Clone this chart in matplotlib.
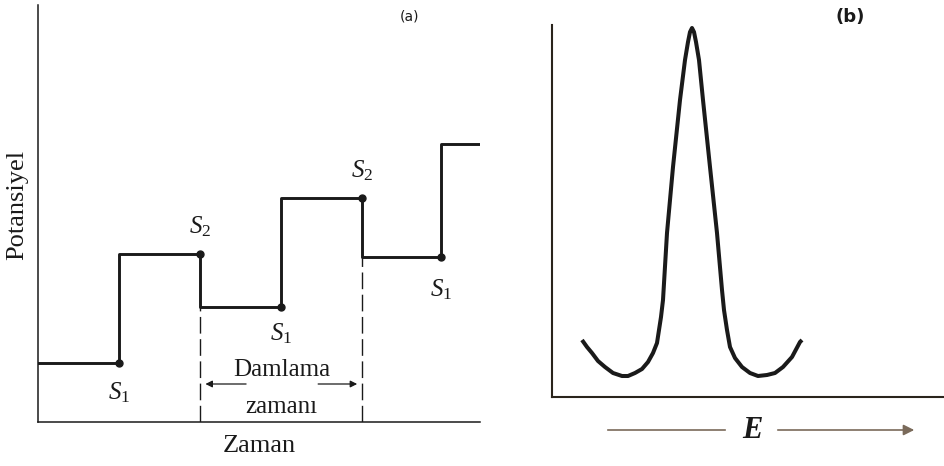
# Differential pulse polarography: (a) potential staircase, (b) peak-shaped response.
import numpy as np
import matplotlib.pyplot as plt

plt.rcParams['font.family'] = ['Liberation Serif', 'DejaVu Serif']
plt.rcParams['mathtext.fontset'] = 'custom'
plt.rcParams['mathtext.rm'] = 'Liberation Serif'
plt.rcParams['mathtext.it'] = 'Liberation Serif:italic'

# (a) step edges (drop times) and potential levels held between them
step_times = [0, 1, 2, 3, 4, 4.97, 5.45]
potential = [59, 168, 115, 224, 165, 278, 278]
sample_labels = [r'$S_1$', r'$S_2$', r'$S_1$', r'$S_2$', r'$S_1$']
label_offsets = [-30, 27, -27, 27, -33]

# (b) current vs potential trace
E_vals = [30, 35, 40, 46, 53, 61, 70, 76, 83, 90, 96, 101, 105, 107, 109, 111,
          115, 121, 128, 133, 136, 138, 140, 142, 144, 147, 151, 158, 165, 170,
          172, 175, 178, 183, 190, 198, 206, 215, 223, 231, 240, 248, 250]
current = [57, 50, 44, 36, 30, 24, 21, 21, 24, 28, 35, 44, 54, 67, 80, 97,
           164, 230, 297, 337, 355, 365, 369, 365, 355, 337, 297, 230, 164, 107,
           87, 67, 50, 39, 30, 24, 21, 22, 24, 30, 40, 55, 57]

W, H = 945, 466
fig = plt.figure(figsize=(W / 100, H / 100), dpi=100)
ink = '#1a1a1a'

# ---- panel (a)
ax1 = fig.add_axes([38 / W, 1 - 422 / H, (480 - 38) / W, (422 - 5) / H])
ax1.step(step_times, potential, where='post', color=ink, lw=2.1)
ts = step_times[1:6]
vs = potential[0:5]
ax1.plot(ts, vs, 'o', color=ink, ms=5)
for t, v, lab, off in zip(ts, vs, sample_labels, label_offsets):
    ax1.annotate(lab, (t, v), xytext=(0, off), textcoords='offset pixels',
                 ha='center', va='center', fontsize=18, color=ink)

# drop-time markers
for t, v in [(2, potential[2]), (4, potential[4])]:
    ax1.plot([t, t], [0, v], color=ink, lw=1.0, ls=(0, (12, 4)))
ax1.annotate('', xy=(2.03, 38), xytext=(2.6, 38),
             arrowprops=dict(arrowstyle='-|>', color=ink, lw=0.9, mutation_scale=10))
ax1.annotate('', xy=(3.97, 38), xytext=(3.42, 38),
             arrowprops=dict(arrowstyle='-|>', color=ink, lw=0.9, mutation_scale=10))
ax1.text(3.0, 52, 'Damlama', ha='center', va='center', fontsize=18, color=ink)
ax1.text(3.0, 15, 'zamanı', ha='center', va='center', fontsize=18, color=ink)

ax1.set_xlim(0, 5.45)
ax1.set_ylim(0, 417)
ax1.set_xticks([])
ax1.set_yticks([])
for s in ['top', 'right']:
    ax1.spines[s].set_visible(False)
for s in ['left', 'bottom']:
    ax1.spines[s].set_linewidth(1.1)
    ax1.spines[s].set_color(ink)
ax1.set_xlabel('Zaman', fontsize=19, color=ink)
ax1.xaxis.set_label_coords(0.5, -0.03)
ax1.set_ylabel('Potansiyel', fontsize=19, color=ink)
ax1.yaxis.set_label_coords(-0.022, 0.52)

# ---- panel (b)
ax2 = fig.add_axes([552 / W, 1 - 397 / H, (W - 552) / W, (397 - 25) / H])
ax2.plot(E_vals, current, color=ink, lw=2.9, solid_joinstyle='round', solid_capstyle='butt')
ax2.set_xlim(0, 393)
ax2.set_ylim(0, 372)
ax2.set_xticks([])
ax2.set_yticks([])
for s in ['top', 'right']:
    ax2.spines[s].set_visible(False)
for s in ['left', 'bottom']:
    ax2.spines[s].set_linewidth(1.5)
    ax2.spines[s].set_color('#2a241c')

arrow_col = '#7a6a5a'
ax2.plot([56, 173], [-33, -33], color=arrow_col, lw=1.2, clip_on=False)
ax2.annotate('', xy=(365, -33), xytext=(223, -33), annotation_clip=False,
             arrowprops=dict(arrowstyle='-|>', color=arrow_col, lw=1.2, mutation_scale=16))
ax2.text(200, -33, 'E', ha='center', va='center', fontsize=22, fontstyle='italic',
         fontweight='bold', color=ink, clip_on=False)

fig.text(410 / W, 1 - 16 / H, '(a)', ha='center', va='center', fontsize=10,
         family='DejaVu Sans', color=ink)
fig.text(850 / W, 1 - 17 / H, '(b)', ha='center', va='center', fontsize=13,
         family='DejaVu Sans', fontweight='bold', color=ink)

fig.savefig('out.png', dpi=100)
